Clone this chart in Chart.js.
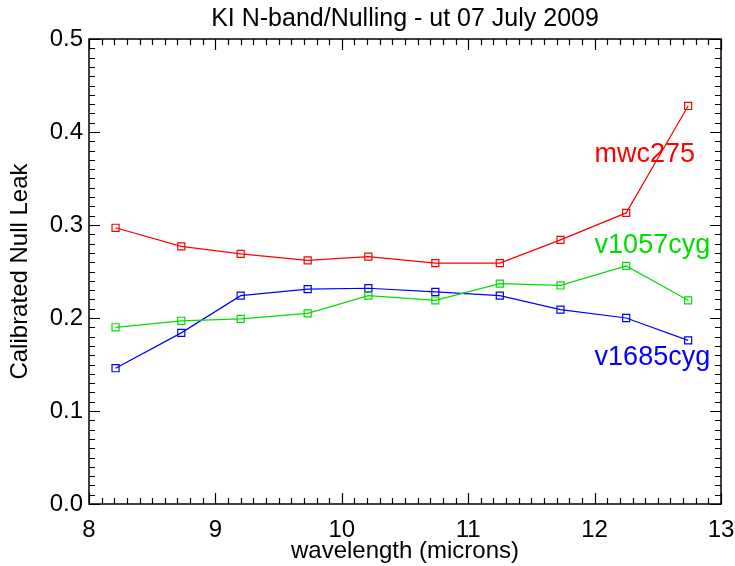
<!DOCTYPE html>
<html>
<head>
<meta charset="utf-8">
<script src="https://cdn.jsdelivr.net/npm/chart.js@4/dist/chart.umd.min.js"></script>
<style>
  html, body { margin: 0; padding: 0; background: #ffffff; }
  #wrap { width: 735px; height: 566px; }
</style>
</head>
<body>
<div id="wrap"><canvas id="c" width="735" height="566"></canvas></div>
<script>
// ---- data ----
const wavelengths = [8.21, 8.73, 9.20, 9.73, 10.21, 10.74, 11.25, 11.73, 12.25, 12.74];
const mwc275   = [0.297, 0.277, 0.269, 0.262, 0.266, 0.259, 0.259, 0.284, 0.313, 0.428];
const v1057cyg = [0.190, 0.197, 0.199, 0.205, 0.224, 0.219, 0.237, 0.235, 0.256, 0.219];
const v1685cyg = [0.146, 0.184, 0.224, 0.231, 0.232, 0.228, 0.224, 0.209, 0.200, 0.176];
const seriesNames = ['mwc275', 'v1057cyg', 'v1685cyg'];
const labelAnchors = [ // [x, y] in data units, text left-aligned, baseline
  [12.0, 0.368],
  [12.0, 0.270],
  [12.0, 0.149]
];
const xTicks = [8, 9, 10, 11, 12, 13];
const yTicks = [0.0, 0.1, 0.2, 0.3, 0.4, 0.5];
const titleText = 'KI N-band/Nulling - ut 07 July 2009';
const xTitle = 'wavelength (microns)';
const yTitle = 'Calibrated Null Leak';

const colors = ['#ff0000', '#00dd00', '#0000ff'];
const FONT = '"Liberation Sans", Arial, Helvetica, sans-serif';

function toPoints(ys) { return wavelengths.map((x, i) => ({ x: x, y: ys[i] })); }

const boxTicks = {
  id: 'boxTicks',
  afterDatasetsDraw(chart) {
    const { ctx, chartArea: a, scales } = chart;
    const xs = scales.x, ys = scales.y;
    ctx.save();
    ctx.strokeStyle = '#000';
    ctx.lineWidth = 1.5;
    ctx.strokeRect(a.left, a.top, a.right - a.left, a.bottom - a.top);
    ctx.lineWidth = 1.2;
    ctx.beginPath();
    for (let k = 0; k <= 50; k++) {
      const v = xs.min + k * 0.1;
      const px = Math.round(xs.getPixelForValue(v)) + 0.5;
      const len = (k % 10 === 0) ? 11 : 6;
      ctx.moveTo(px, a.bottom); ctx.lineTo(px, a.bottom - len);
      ctx.moveTo(px, a.top); ctx.lineTo(px, a.top + len);
    }
    for (let k = 0; k <= 50; k++) {
      const v = ys.min + k * 0.01;
      const py = Math.round(ys.getPixelForValue(v)) + 0.5;
      const len = (k % 10 === 0) ? 11 : 6;
      ctx.moveTo(a.left, py); ctx.lineTo(a.left + len, py);
      ctx.moveTo(a.right, py); ctx.lineTo(a.right - len, py);
    }
    ctx.stroke();
    ctx.font = '27px ' + FONT;
    ctx.textAlign = 'left';
    ctx.textBaseline = 'alphabetic';
    labelAnchors.forEach((p, i) => {
      ctx.fillStyle = colors[i];
      ctx.fillText(seriesNames[i], xs.getPixelForValue(p[0]), ys.getPixelForValue(p[1]));
    });
    ctx.restore();
  }
};

const series = [mwc275, v1057cyg, v1685cyg];
new Chart(document.getElementById('c'), {
  type: 'line',
  data: {
    datasets: series.map((s, i) => ({
      label: seriesNames[i],
      data: toPoints(s),
      borderColor: colors[i],
      backgroundColor: 'rgba(0,0,0,0)',
      borderWidth: 1.2,
      pointStyle: 'rect',
      pointRadius: 5,
      pointBorderWidth: 1.2,
      pointBorderColor: colors[i],
      pointBackgroundColor: 'rgba(0,0,0,0)',
      tension: 0,
      fill: false
    }))
  },
  options: {
    responsive: false,
    animation: false,
    devicePixelRatio: 1,
    layout: { padding: { left: 0, right: 14, top: 0, bottom: 0 } },
    plugins: {
      legend: { display: false },
      tooltip: { enabled: false },
      title: {
        display: true,
        fullSize: false,
        text: titleText,
        color: '#000',
        font: { family: FONT, size: 25, weight: 'normal' },
        padding: { top: 4.5, bottom: 4.5 }
      }
    },
    scales: {
      x: {
        type: 'linear',
        min: 8, max: 13,
        afterBuildTicks: s => { s.ticks = xTicks.map(v => ({ value: v })); },
        afterFit: s => { s.height = 62; s.paddingLeft = 0; s.paddingRight = 0; },
        grid: { display: false, drawTicks: false },
        border: { display: false },
        ticks: { color: '#000', padding: 12, font: { family: FONT, size: 24 }, maxRotation: 0,
                 callback: v => String(v) },
        title: { display: true, text: xTitle, color: '#000', padding: { top: 0, bottom: 0 },
                 font: { family: FONT, size: 24 } }
      },
      y: {
        type: 'linear',
        min: 0, max: 0.5,
        afterBuildTicks: s => { s.ticks = yTicks.map(v => ({ value: v })); },
        afterFit: s => { s.width = 89; s.paddingTop = 0; s.paddingBottom = 0; },
        grid: { display: false, drawTicks: false },
        border: { display: false },
        ticks: { color: '#000', padding: 6, font: { family: FONT, size: 24 },
                 callback: v => Number(v).toFixed(1) },
        title: { display: true, text: yTitle, color: '#000', padding: { top: 6, bottom: 0 },
                 font: { family: FONT, size: 24 } }
      }
    }
  },
  plugins: [boxTicks]
});
</script>
</body>
</html>
